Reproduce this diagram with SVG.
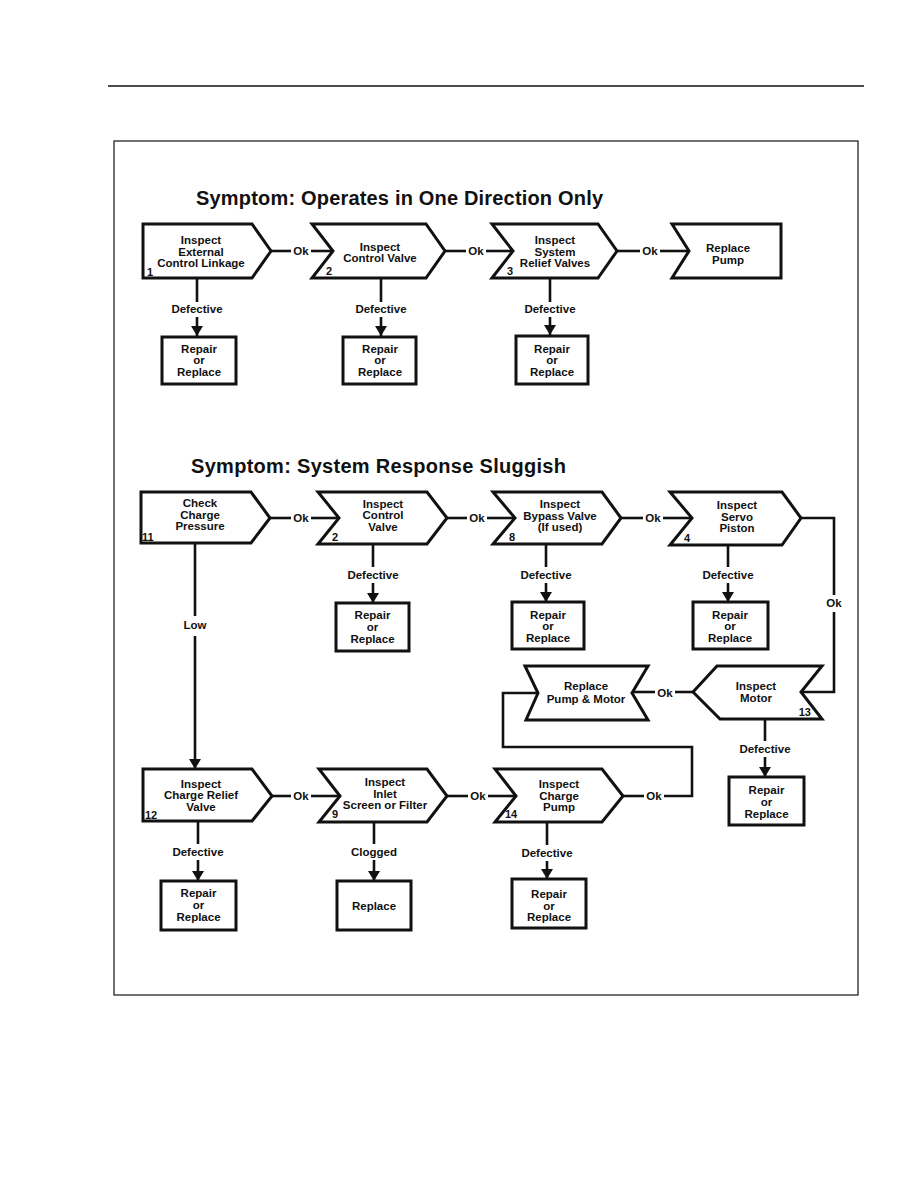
<svg xmlns="http://www.w3.org/2000/svg" width="918" height="1188" viewBox="0 0 918 1188">
<style>
.nd{fill:#fff;stroke:#111;stroke-width:3;stroke-linejoin:miter}
.bx{fill:#fff;stroke:#111;stroke-width:3}
.c{fill:none;stroke:#111;stroke-width:2.6}
text{font-family:"Liberation Sans",Arial,sans-serif;font-weight:bold;fill:#111}
.t{font-size:11.5px;text-anchor:middle}
.n{font-size:11px}
.h{font-size:20px}
</style>
<defs>
<marker id="ah" markerUnits="userSpaceOnUse" markerWidth="12" markerHeight="12" refX="10" refY="6" orient="auto">
<path d="M0,0 L10,6 L0,12 z" fill="#111"/>
</marker>
</defs>
<rect width="918" height="1188" fill="#fff"/>
<line x1="108" y1="86" x2="864" y2="86" stroke="#111" stroke-width="1.5"/>
<rect x="114" y="141" width="744" height="854" fill="none" stroke="#111" stroke-width="1.2"/>
<text class="h" x="196" y="205" textLength="407">Symptom: Operates in One Direction Only</text>
<text class="h" x="191" y="473" textLength="375">Symptom: System Response Sluggish</text>

<g id="connectors">
<!-- top row -->
<polyline class="c" points="271,251 291,251"/><text class="t" x="301" y="255">Ok</text><polyline class="c" points="311,251 333,251"/>
<polyline class="c" points="445,251 466,251"/><text class="t" x="476" y="255">Ok</text><polyline class="c" points="486,251 513,251"/>
<polyline class="c" points="617,251 640,251"/><text class="t" x="650" y="255">Ok</text><polyline class="c" points="660,251 689,251"/>
<line class="c" x1="197" y1="278" x2="197" y2="302"/><text class="t" x="197" y="313">Defective</text><line class="c" x1="197" y1="317" x2="197" y2="336" marker-end="url(#ah)"/>
<line class="c" x1="381" y1="278" x2="381" y2="302"/><text class="t" x="381" y="313">Defective</text><line class="c" x1="381" y1="317" x2="381" y2="336" marker-end="url(#ah)"/>
<line class="c" x1="550" y1="278" x2="550" y2="302"/><text class="t" x="550" y="313">Defective</text><line class="c" x1="550" y1="317" x2="550" y2="335" marker-end="url(#ah)"/>
<!-- bottom section -->
<polyline class="c" points="270,518 291,518"/><text class="t" x="301" y="522">Ok</text><polyline class="c" points="311,518 339,518"/>
<polyline class="c" points="447,518 467,518"/><text class="t" x="477" y="522">Ok</text><polyline class="c" points="487,518 515,518"/>
<polyline class="c" points="621,518 643,518"/><text class="t" x="653" y="522">Ok</text><polyline class="c" points="663,518 692,518"/>
<polyline class="c" points="801,518 834,518 834,595"/><text class="t" x="834" y="607">Ok</text><polyline class="c" points="834,612 834,692 801,692"/>
<polyline class="c" points="693,692 675,692"/><text class="t" x="665" y="697">Ok</text><polyline class="c" points="655,692 632,692"/>
<line class="c" x1="373" y1="544" x2="373" y2="567"/><text class="t" x="373" y="579">Defective</text><line class="c" x1="373" y1="583" x2="373" y2="603" marker-end="url(#ah)"/>
<line class="c" x1="546" y1="544" x2="546" y2="567"/><text class="t" x="546" y="579">Defective</text><line class="c" x1="546" y1="583" x2="546" y2="602" marker-end="url(#ah)"/>
<line class="c" x1="728" y1="545" x2="728" y2="567"/><text class="t" x="728" y="579">Defective</text><line class="c" x1="728" y1="583" x2="728" y2="602" marker-end="url(#ah)"/>
<line class="c" x1="195" y1="543" x2="195" y2="616"/><text class="t" x="195" y="629">Low</text><line class="c" x1="195" y1="636" x2="195" y2="769" marker-end="url(#ah)"/>
<line class="c" x1="765" y1="719" x2="765" y2="741"/><text class="t" x="765" y="753">Defective</text><line class="c" x1="765" y1="757" x2="765" y2="777" marker-end="url(#ah)"/>
<polyline class="c" points="272,796 291,796"/><text class="t" x="301" y="800">Ok</text><polyline class="c" points="311,796 340,796"/>
<polyline class="c" points="447,796 468,796"/><text class="t" x="478" y="800">Ok</text><polyline class="c" points="488,796 516,796"/>
<polyline class="c" points="623,796 644,796"/><text class="t" x="654" y="800">Ok</text><polyline class="c" points="664,796 692,796 692,747 503,747 503,693 538,693"/>
<line class="c" x1="198" y1="821" x2="198" y2="844"/><text class="t" x="198" y="856">Defective</text><line class="c" x1="198" y1="860" x2="198" y2="881" marker-end="url(#ah)"/>
<line class="c" x1="374" y1="822" x2="374" y2="844"/><text class="t" x="374" y="856">Clogged</text><line class="c" x1="374" y1="860" x2="374" y2="881" marker-end="url(#ah)"/>
<line class="c" x1="547" y1="822" x2="547" y2="845"/><text class="t" x="547" y="857">Defective</text><line class="c" x1="547" y1="861" x2="547" y2="879" marker-end="url(#ah)"/>
</g>

<!-- top row nodes -->
<g id="n1"><polygon class="nd" points="143,224 252,224 271,251 252,278 143,278"/>
<text class="t" x="201" y="244">Inspect</text><text class="t" x="201" y="255.5">External</text><text class="t" x="201" y="267">Control Linkage</text><text class="n" x="147" y="276">1</text></g>
<g id="n2"><polygon class="nd" points="312,224 426,224 445,251 426,278 312,278 333,251"/>
<text class="t" x="380" y="250.5">Inspect</text><text class="t" x="380" y="262">Control Valve</text><text class="n" x="326" y="275">2</text></g>
<g id="n3"><polygon class="nd" points="492,224 598,224 617,251 598,278 492,278 513,251"/>
<text class="t" x="555" y="244">Inspect</text><text class="t" x="555" y="255.5">System</text><text class="t" x="555" y="267">Relief Valves</text><text class="n" x="507" y="275">3</text></g>
<g id="n4"><polygon class="nd" points="672,224 781,224 781,278 672,278 689,251"/>
<text class="t" x="728" y="252">Replace</text><text class="t" x="728" y="263.5">Pump</text></g>
<g id="r1"><rect class="bx" x="162" y="337" width="74" height="47"/><text class="t" x="199" y="352.5">Repair</text><text class="t" x="199" y="364">or</text><text class="t" x="199" y="375.5">Replace</text></g>
<g id="r2"><rect class="bx" x="343" y="337" width="73" height="47"/><text class="t" x="380" y="352.5">Repair</text><text class="t" x="380" y="364">or</text><text class="t" x="380" y="375.5">Replace</text></g>
<g id="r3"><rect class="bx" x="516" y="336" width="72" height="48"/><text class="t" x="552" y="352.5">Repair</text><text class="t" x="552" y="364">or</text><text class="t" x="552" y="375.5">Replace</text></g>

<!-- bottom section nodes -->
<g id="n11"><polygon class="nd" points="141,492 251,492 270,518 251,543 141,543"/>
<text class="t" x="200" y="507">Check</text><text class="t" x="200" y="518.5">Charge</text><text class="t" x="200" y="530">Pressure</text><text class="n" x="142" y="541">11</text></g>
<g id="n2b"><polygon class="nd" points="318,492 427,492 447,518 427,544 318,544 339,518"/>
<text class="t" x="383" y="507.5">Inspect</text><text class="t" x="383" y="519">Control</text><text class="t" x="383" y="530.5">Valve</text><text class="n" x="332" y="541">2</text></g>
<g id="n8"><polygon class="nd" points="493,492 602,492 621,518 602,544 493,544 515,518"/>
<text class="t" x="560" y="508">Inspect</text><text class="t" x="560" y="519.5">Bypass Valve</text><text class="t" x="560" y="531">(If used)</text><text class="n" x="509" y="541">8</text></g>
<g id="n4b"><polygon class="nd" points="670,492 782,492 801,518 782,545 670,545 692,518"/>
<text class="t" x="737" y="509">Inspect</text><text class="t" x="737" y="520.5">Servo</text><text class="t" x="737" y="532">Piston</text><text class="n" x="684" y="542">4</text></g>
<g id="r2b"><rect class="bx" x="336" y="603" width="73" height="48"/><text class="t" x="372.5" y="619">Repair</text><text class="t" x="372.5" y="631">or</text><text class="t" x="372.5" y="642.5">Replace</text></g>
<g id="r8"><rect class="bx" x="512" y="602" width="72" height="47"/><text class="t" x="548" y="618.5">Repair</text><text class="t" x="548" y="630">or</text><text class="t" x="548" y="641.5">Replace</text></g>
<g id="r4b"><rect class="bx" x="693" y="602" width="75" height="47"/><text class="t" x="730" y="618.5">Repair</text><text class="t" x="730" y="630">or</text><text class="t" x="730" y="641.5">Replace</text></g>
<g id="nrpm"><polygon class="nd" points="525,666 648,666 632,693 648,720 526,720 538,693"/>
<text class="t" x="586" y="690">Replace</text><text class="t" x="586" y="702.5">Pump &amp; Motor</text></g>
<g id="n13"><polygon class="nd" points="693,692 717,666 822,666 801,692 822,719 720,719"/>
<text class="t" x="756" y="689.5">Inspect</text><text class="t" x="756" y="701.5">Motor</text><text class="n" x="811" y="716" text-anchor="end">13</text></g>
<g id="r13"><rect class="bx" x="729" y="777" width="75" height="48"/><text class="t" x="766.5" y="794">Repair</text><text class="t" x="766.5" y="806">or</text><text class="t" x="766.5" y="817.5">Replace</text></g>
<g id="n12"><polygon class="nd" points="143,769 252,769 272,796 252,821 143,821"/>
<text class="t" x="201" y="787.5">Inspect</text><text class="t" x="201" y="799">Charge Relief</text><text class="t" x="201" y="810.5">Valve</text><text class="n" x="145" y="819">12</text></g>
<g id="n9"><polygon class="nd" points="319,769 427,769 447,796 427,822 319,822 340,796"/>
<text class="t" x="385" y="786">Inspect</text><text class="t" x="385" y="797.5">Inlet</text><text class="t" x="385" y="809">Screen or Filter</text><text class="n" x="332" y="818">9</text></g>
<g id="n14"><polygon class="nd" points="495,769 602,769 623,796 602,822 495,822 516,796"/>
<text class="t" x="559" y="787.5">Inspect</text><text class="t" x="559" y="799.5">Charge</text><text class="t" x="559" y="811">Pump</text><text class="n" x="505" y="818">14</text></g>
<g id="r12"><rect class="bx" x="161" y="881" width="75" height="49"/><text class="t" x="198.5" y="897">Repair</text><text class="t" x="198.5" y="909">or</text><text class="t" x="198.5" y="920.5">Replace</text></g>
<g id="r9"><rect class="bx" x="337" y="881" width="74" height="49"/><text class="t" x="374" y="909.5">Replace</text></g>
<g id="r14"><rect class="bx" x="512" y="879" width="74" height="49"/><text class="t" x="549" y="897.5">Repair</text><text class="t" x="549" y="909.5">or</text><text class="t" x="549" y="921">Replace</text></g>
</svg>
